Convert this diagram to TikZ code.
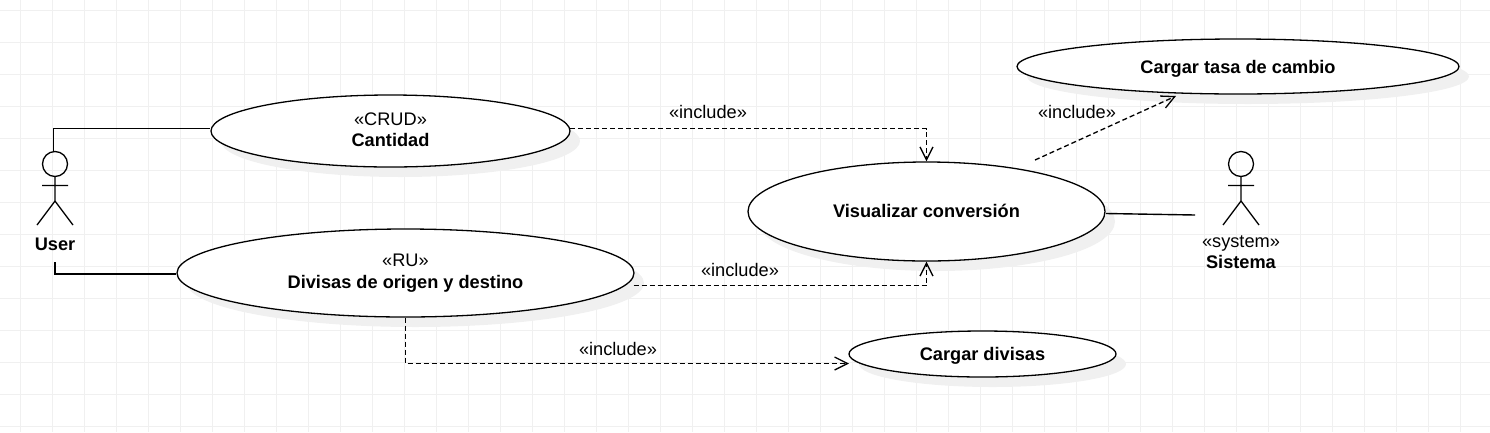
\documentclass[tikz,border=0pt]{standalone}
\usepackage{fontspec}
\setmainfont{Liberation Sans}
\usetikzlibrary{shapes.geometric, arrows.meta, shadows}
\newcommand{\nudge}[2]{\raisebox{#1}[\height][\depth]{#2}}
\tikzset{
  usecase/.style={draw, ellipse, fill=white, inner sep=0pt, line width=1.3pt, align=center,
    drop shadow={shadow xshift=10pt, shadow yshift=-10pt, fill=black!6, opacity=1}},
  relation/.style={line width=1.4pt},
  include/.style={-{Straight Barb[length=13pt,width=13pt]}, line width=1.3pt, dash pattern=on 5pt off 3pt},
  actor/.pic={
    \draw[line width=1.3pt] (0,0) circle (12.5pt);
    \draw[line width=1.3pt] (0,12.5) -- (0,37) (-13,21.5) -- (13,21.5) (-18,61) -- (0,37) -- (18,61);
  }
}
\begin{document}
\begin{tikzpicture}[x=1pt,y=-1pt, font=\fontsize{18.2}{21}\selectfont]
  \useasboundingbox (0,0) rectangle (1490,432);
  \foreach \gx in {0,...,46} \draw[black!6] (20.5+32*\gx,0) -- (20.5+32*\gx,432);
  \foreach \gy in {0,...,13} \draw[black!6] (0,10.5+32*\gy) -- (1490,10.5+32*\gy);

  \node[usecase, minimum width=359pt, minimum height=72pt](cantidad)  at (390.5,131) {\nudge{1pt}{«CRUD»}\\\nudge{1pt}{\textbf{Cantidad}}};
  \node[usecase, minimum width=457pt, minimum height=88pt](divisas)  at (405.5,273) {«RU»\\\nudge{-1pt}{\textbf{Divisas de origen y destino}}};
  \node[usecase, minimum width=357pt, minimum height=99pt](visualizar)  at (926.5,211.5) {\nudge{1pt}{\textbf{Visualizar conversión}}};
  \node[usecase, minimum width=442pt, minimum height=55pt](cargartasa)  at (1238,66.5) {\nudge{-2.5pt}{\textbf{Cargar tasa de cambio}}};
  \node[usecase, minimum width=267pt, minimum height=46pt](cargardivisas)  at (982.5,354) {\nudge{-2pt}{\textbf{Cargar divisas}}};

  \pic at (55,164) {actor};
  \pic at (1241,164) {actor};
  \node(user)  at (55,244) {\textbf{User}};
  \node[align=center](sistema)  at (1241,252.5) {«system»\\\textbf{Sistema}};

  \coordinate (userhead) at (53.5,152);
  \coordinate (userfoot) at (55,262);
  \coordinate (sistemaside) at (1195,215);
  \coordinate (visualizarside) at (1106,213.5);
  \coordinate (visualizartop) at (1035,160);
  \coordinate (tasaend) at (1176,96);
  \coordinate (cantidadside) at (570,128.5);
  \coordinate (divisasside) at (633.5,285.5);
  \coordinate (divisasend) at (849,363.5);

  \draw[relation] (userhead) |- (cantidad.west |- 0,128.5);
  \draw[relation] (userfoot) |- (divisas.west |- 0,274);
  \draw[relation] (visualizarside) -- (sistemaside);

  \draw[include] (cantidadside) -| (visualizar.north);
  \draw[include] (divisasside) -| (visualizar.south);
  \draw[include] (divisas.south) |- (divisasend);
  \draw[include] (visualizartop) -- (tasaend);

  \node(include1)  at (708,112) {«include»};
  \node(include2)  at (1077,112) {«include»};
  \node(include3)  at (740,270) {«include»};
  \node(include4)  at (618,349) {«include»};
\end{tikzpicture}
\end{document}
